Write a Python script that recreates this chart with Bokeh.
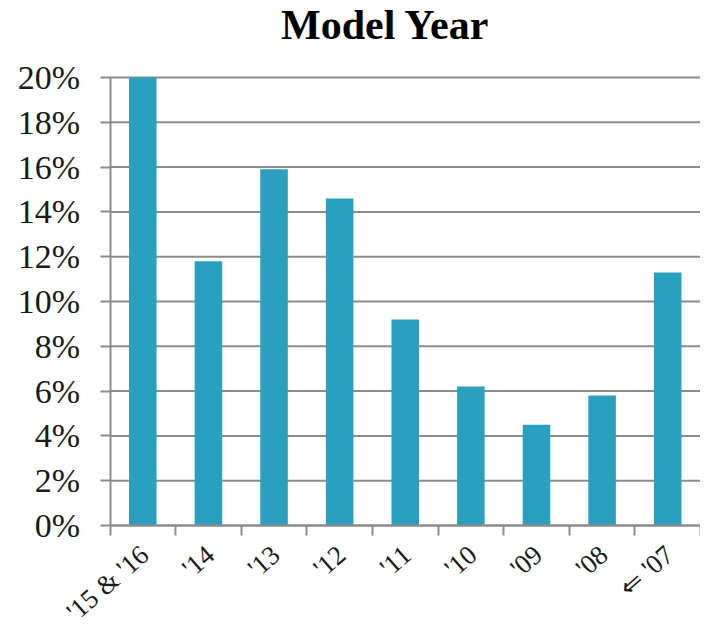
import math
from bokeh.plotting import figure
from bokeh.models import Range1d, FixedTicker, PrintfTickFormatter, ColumnDataSource, LabelSet, Label
from bokeh.core.properties import value
from bokeh.embed import file_html
from bokeh.resources import INLINE

# ---- data ----
years = ["'15 & '16", "'14", "'13", "'12", "'11", "'10", "'09", "'08", "\u21d0 '07"]
share = [20.0, 11.8, 15.9, 14.6, 9.2, 6.2, 4.5, 5.8, 11.3]
y_ticks = [0, 2, 4, 6, 8, 10, 12, 14, 16, 18, 20]
title_text = "Model Year"

# ---- style / layout ----
BAR = "#2ba0be"
GRID = "#8c8c8c"
TXT = "#1a1a1a"
SERIF = "Liberation Serif"
# the frame covers the whole canvas; axes are pinned inside it so that nothing is clipped
X_LO, X_HI = -2.169, 8.5
Y_LO, Y_HI = -4.6875, 23.4375

n = len(years)
pos = list(range(n))
src = ColumnDataSource(dict(x=pos, top=share, base=[0] * n, name=years))
left_edge, right_edge = pos[0] - 0.5, pos[-1] + 0.5

p = figure(width=700, height=630, output_backend="svg", toolbar_location=None,
           x_range=Range1d(X_LO, X_HI), y_range=Range1d(Y_LO, Y_HI),
           min_border_left=0, min_border_right=0, min_border_top=0, min_border_bottom=0)
p.title.visible = False
p.outline_line_color = None
p.background_fill_color = "white"
p.border_fill_color = "white"
p.xgrid.visible = False
p.ygrid.visible = False

# horizontal gridlines at the y ticks, spanning the category area
p.segment(x0=left_edge, x1=right_edge, y0=y_ticks, y1=y_ticks, line_color=GRID, line_width=2)

p.vbar(x="x", top="top", bottom=0, width=0.42, source=src, fill_color=BAR, line_color=None)

# y axis pinned at the left category edge
ya = p.yaxis[0]
ya.fixed_location = left_edge
ya.ticker = FixedTicker(ticks=y_ticks)
ya.bounds = (y_ticks[0], y_ticks[-1])
ya.formatter = PrintfTickFormatter(format="%d%%")
ya.axis_line_color = GRID
ya.axis_line_width = 2
ya.major_tick_line_color = GRID
ya.major_tick_line_width = 2
ya.major_tick_out = 10
ya.major_tick_in = 0
ya.minor_tick_line_color = None
ya.major_label_text_font = SERIF
ya.major_label_text_font_size = "34px"
ya.major_label_text_color = TXT
ya.major_label_standoff = 20

# x axis pinned at 0: small ticks at category boundaries; names drawn as rotated labels
xa = p.xaxis[0]
xa.fixed_location = 0
xa.bounds = (left_edge, right_edge)
xa.ticker = FixedTicker(ticks=pos, minor_ticks=[i - 0.5 for i in range(n + 1)])
xa.major_label_overrides = {i: "" for i in pos}
xa.major_label_text_font_size = "1px"
xa.axis_line_color = GRID
xa.axis_line_width = 2
xa.major_tick_out = 0
xa.major_tick_in = 0
xa.major_tick_line_color = None
xa.minor_tick_out = 10
xa.minor_tick_in = 0
xa.minor_tick_line_color = GRID
xa.minor_tick_line_width = 2

labels = LabelSet(x="x", y="base", text="name", source=src, angle=math.radians(41),
                  text_align="right", text_baseline="top", x_offset=-8, y_offset=-14,
                  text_font=value(SERIF), text_font_size="27px", text_color=TXT)
p.add_layout(labels)

title = Label(x=3.699, y=22.35, text=title_text, text_align="center", text_baseline="alphabetic",
              text_font=SERIF, text_font_size="42px", text_font_style="bold", text_color="#000000")
p.add_layout(title)

open("out.html", "w").write(file_html(p, INLINE))
